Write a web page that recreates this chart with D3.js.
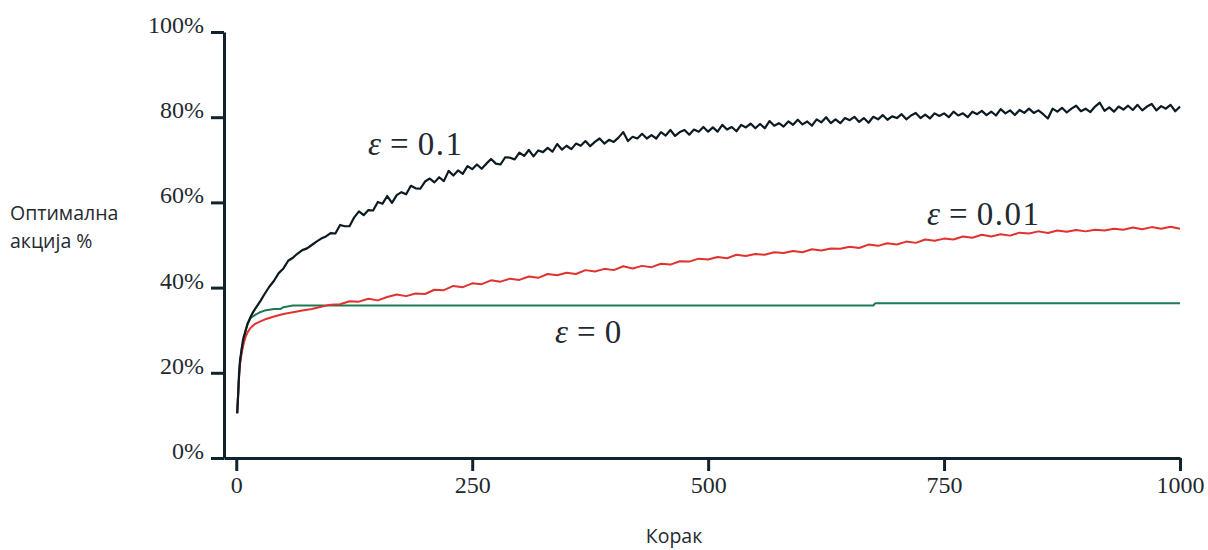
<!DOCTYPE html>
<html>
<head>
<meta charset="utf-8">
<script src="https://cdn.jsdelivr.net/npm/d3@7"></script>
<style>
  html, body { margin: 0; padding: 0; background: #ffffff; }
  svg { display: block; }
</style>
</head>
<body>
<svg id="chart" width="1208" height="550"></svg>
<script>
// ---------------- DATA ----------------
const xTicks = [0, 250, 500, 750, 1000];
const yTicks = [0, 20, 40, 60, 80, 100];

// epsilon = 0.1 (black)
const blackEarlySteps = [1,2,3,4,5,6,7,8,10,12,14,16,18,20,23,26,30,35,40,45,50,55,60,65,70,75,80,85,90,95];
const blackEarlyValues = [10.5,15,20,23,24.5,26,27.5,28.5,30,31.5,32.5,33.5,34.3,35,36,37,38.5,40.2,41.6,43.4,44.5,46.3,47,48,48.8,49.2,50,50.8,51.5,52];
const blackLateValues = [
  52.8,52.7,54.7,54.4,54.4,56.5,57.9,57.0,58.2,58.1,60.1,
  59.7,61.5,59.9,61.7,62.4,61.9,63.9,63.3,63.2,64.9,
  65.6,64.7,65.9,65.0,67.4,66.3,67.5,66.7,68.5,67.8,
  68.9,67.9,69.1,70.2,69.1,68.9,70.6,70.5,70.1,71.7,
  70.9,72.3,70.8,72.2,71.8,72.8,71.9,73.7,72.4,73.3,
  72.5,73.8,73.3,74.4,73.2,74.2,75.0,73.8,74.7,74.2,
  75.2,76.5,74.4,75.4,75.0,76.1,75.0,75.8,75.0,76.5,
  75.7,77.0,75.6,76.5,77.0,75.9,77.1,76.6,77.7,76.6,
  77.6,76.6,78.2,77.1,77.7,76.7,78.2,77.6,78.5,77.4,
  78.4,77.4,79.1,78.0,78.6,77.8,79.0,78.2,79.4,78.3,
  79.0,78.0,79.5,78.8,80.0,78.6,79.5,78.6,79.8,79.3,
  80.1,78.9,79.8,78.7,80.1,79.5,80.5,79.4,80.2,79.8,
  80.7,79.5,80.4,81.0,79.8,80.6,79.7,80.9,80.3,80.9,
  80.0,81.3,80.4,80.9,80.0,81.3,80.7,81.5,80.5,81.3,
  80.4,81.9,80.9,81.6,80.5,81.7,81.0,82.0,81.0,81.6,
  80.7,79.7,82.0,81.3,82.2,81.1,82.0,82.7,81.4,82.0,
  81.2,82.5,83.4,81.5,82.3,81.3,82.5,81.8,82.7,81.7,
  82.9,81.6,82.5,83.1,81.6,82.6,82.0,82.9,81.4,82.5
];
const blackLateSteps = d3.range(100, 1001, 5);

// epsilon = 0.01 (red)
const redEarlySteps = [1,2,3,4,5,6,8,10,12,15,20,25,30,40,50,60,70,80,90];
const redEarlyValues = [10.5,15,19,22,23.5,25,27,28.5,29.5,30.5,31.5,32,32.5,33.2,33.8,34.2,34.6,35.0,35.5];
const redLateValues = [
  36.0,36.1,36.8,36.7,37.4,37.0,37.8,38.4,38.0,38.6,38.5,
  39.5,39.4,40.4,40.1,41.0,40.8,41.7,41.4,42.1,41.8,
  42.6,42.3,43.2,42.9,43.5,43.2,44.1,43.8,44.4,44.1,
  45.0,44.5,45.1,44.8,45.6,45.4,46.2,46.1,46.8,46.6,
  47.2,46.9,47.7,47.4,47.9,47.7,48.3,48.1,48.6,48.3,
  49.0,48.7,49.2,49.1,49.6,49.3,50.1,49.8,50.4,50.1,
  50.8,50.5,51.3,51.0,51.5,51.3,52.0,51.7,52.4,52.0,
  52.5,52.2,52.9,52.7,53.2,52.8,53.4,53.1,53.5,53.2,
  53.6,53.4,53.8,53.6,54.1,53.7,54.2,53.8,54.3,53.8
];
const redLateSteps = d3.range(100, 1001, 10);

// epsilon = 0 (green)
const greenSteps = [1,2,3,4,5,6,8,10,12,15,20,25,30,40,47,50,60,675,677,1000];
const greenValues = [10.5,15,19.5,22.5,24,26,28,30,31.5,32.8,33.6,34.2,34.6,35.0,35.0,35.4,35.8,35.8,36.3,36.3];

const seriesSymbol = "ε";
const seriesValues = ["0.1", "0.01", "0"];
const yTitleLines = ["Оптимална", "акција %"];
const xTitle = "Корак";

// ---------------- CHART ----------------
const svg = d3.select("#chart");
const axisColor = "#13232b";
const textColor = "#1f2a30";
const serif = "'Liberation Serif', 'DejaVu Serif', serif";
const sans = "'Open Sans', 'Noto Sans', sans-serif";

const x = d3.scaleLinear().domain([-13, 1000]).range([224, 1180]);
const y = d3.scaleLinear().domain([0, 100]).range([458, 32]);

function zip(steps, values) {
  const n = Math.min(steps.length, values.length);
  const out = [];
  for (let i = 0; i < n; i++) out.push([steps[i], values[i]]);
  return out;
}
const blackData = zip(blackEarlySteps, blackEarlyValues).concat(zip(blackLateSteps, blackLateValues));
const redData = zip(redEarlySteps, redEarlyValues).concat(zip(redLateSteps, redLateValues));
const greenData = zip(greenSteps, greenValues);

const line = d3.line().x(d => x(d[0])).y(d => y(d[1]));

// Y axis
const yAxis = svg.append("g")
  .attr("transform", `translate(${x(-13)},0)`)
  .call(d3.axisLeft(y).tickValues(yTicks).tickSize(13).tickSizeOuter(0).tickFormat(d => d + "%"));
yAxis.select(".domain").attr("stroke", axisColor).attr("stroke-width", 3);
yAxis.selectAll(".tick line").attr("stroke", axisColor).attr("stroke-width", 3);
yAxis.selectAll(".tick text")
  .attr("x", -20).attr("dy", "0.02em")
  .attr("fill", textColor)
  .style("font-family", serif)
  .style("font-size", "24px");

// X axis
const xAxis = svg.append("g")
  .attr("transform", `translate(0,${y(0)})`)
  .call(d3.axisBottom(x).tickValues(xTicks).tickSize(13).tickSizeOuter(0).tickFormat(d3.format("d")));
xAxis.select(".domain").attr("stroke", axisColor).attr("stroke-width", 3);
xAxis.selectAll(".tick line").attr("stroke", axisColor).attr("stroke-width", 3);
xAxis.selectAll(".tick text")
  .attr("y", 35).attr("dy", "0")
  .attr("fill", textColor)
  .style("font-family", serif)
  .style("font-size", "24px");

// Lines
svg.append("path").datum(greenData)
  .attr("fill", "none").attr("stroke", "#1d7a52").attr("stroke-width", 2)
  .attr("stroke-linejoin", "round").attr("d", line);
svg.append("path").datum(redData)
  .attr("fill", "none").attr("stroke", "#e0322f").attr("stroke-width", 2)
  .attr("stroke-linejoin", "round").attr("d", line);
svg.append("path").datum(blackData)
  .attr("fill", "none").attr("stroke", "#0c1a22").attr("stroke-width", 2.2)
  .attr("stroke-linejoin", "round").attr("d", line);

// Series labels
const labelPos = [[368, 155], [927, 225], [555, 343]];
seriesValues.forEach((v, i) => {
  const t = svg.append("text")
    .attr("x", labelPos[i][0]).attr("y", labelPos[i][1])
    .attr("fill", textColor)
    .style("font-family", serif)
    .style("font-size", "33px");
  t.append("tspan").style("font-style", "italic").text(seriesSymbol);
  t.append("tspan").attr("dx", 9).text("=");
  t.append("tspan").attr("dx", 9).style("letter-spacing", "1.5px").text(v);
});

// Axis titles
const yTitle = svg.append("text")
  .attr("fill", textColor)
  .style("font-family", sans)
  .style("font-size", "19.5px");
yTitleLines.forEach((l, i) => {
  yTitle.append("tspan").attr("x", 10).attr("y", 220 + i * 28).text(l);
});
svg.append("text")
  .attr("x", 674).attr("y", 543)
  .attr("text-anchor", "middle")
  .attr("fill", textColor)
  .style("font-family", sans)
  .style("font-size", "19.5px")
  .text(xTitle);
</script>
</body>
</html>
